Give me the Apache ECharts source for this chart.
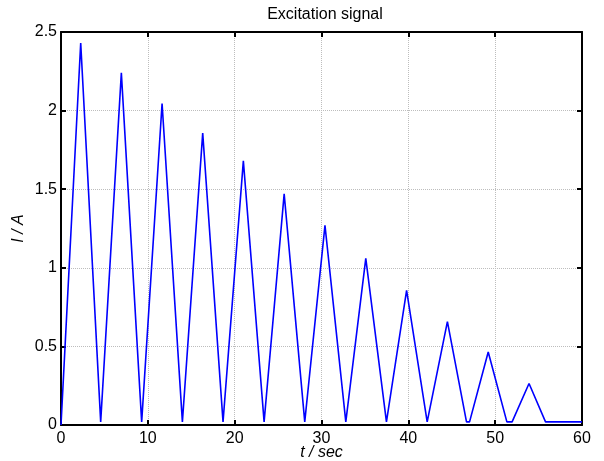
<!DOCTYPE html>
<html>
<head>
<meta charset="utf-8">
<script src="https://cdn.jsdelivr.net/npm/echarts@6/dist/echarts.min.js"></script>
<style>
  html, body { margin: 0; padding: 0; background: #fff; }
  #main { width: 604px; height: 461px; }
</style>
</head>
<body>
<div id="main"></div>
<script>
// time points (sec) and current (A)
var tVals = [0, 2.27, 4.57, 6.95, 9.29, 11.64, 13.98, 16.32, 18.66, 21.0, 23.39,
  25.7, 28.07, 30.4, 32.8, 35.1, 37.48, 39.8, 42.17, 44.5, 46.7, 47.05,
  49.2, 51.35, 51.95, 53.9, 55.8, 60];
var iVals = [0, 2.43, 0.02, 2.24, 0.02, 2.045, 0.02, 1.857, 0.02, 1.68, 0.02,
  1.47, 0.02, 1.27, 0.02, 1.06, 0.02, 0.856, 0.02, 0.658, 0.02, 0.02,
  0.464, 0.02, 0.02, 0.264, 0.02, 0.02];
var xTicks = [0, 60, 10];
var yTicks = [0, 2.5, 0.5];

var data = [];
for (var i = 0; i < tVals.length; i++) {
  data.push([tVals[i], iVals[i]]);
}

var font = 'Liberation Sans, Arial, Helvetica, sans-serif';
var boxLine = { show: true, onZero: false, lineStyle: { color: '#000', width: 2 } };
var inTick = { show: true, inside: true, length: 5, lineStyle: { color: '#000', width: 2 } };
var grid = { show: true, lineStyle: { color: '#bdbdbd', type: 'dotted', width: 1 } };

var myChart = echarts.init(document.getElementById('main'));
myChart.setOption({
  backgroundColor: '#fff',
  animation: false,
  title: {
    text: 'Excitation signal',
    left: 320, top: 2, textAlign: 'center',
    textStyle: { fontFamily: font, fontSize: 16, fontWeight: 'normal', color: '#000' }
  },
  grid: { left: 61, right: 22, top: 32, bottom: 36, outerBoundsMode: 'none', containLabel: false },
  xAxis: [{
    type: 'value', min: xTicks[0], max: xTicks[1], interval: xTicks[2],
    position: 'bottom',
    axisLine: boxLine, axisTick: inTick, splitLine: grid,
    axisLabel: { color: '#000', fontFamily: font, fontSize: 16, margin: 6 },
    name: 't / sec', nameLocation: 'middle', nameGap: 20, nameMoveOverlap: false,
    nameTextStyle: { color: '#000', fontFamily: font, fontSize: 16, fontStyle: 'italic' }
  }, {
    type: 'value', min: xTicks[0], max: xTicks[1], interval: xTicks[2],
    position: 'top',
    axisLine: boxLine, axisTick: inTick, splitLine: { show: false },
    axisLabel: { show: false }
  }],
  yAxis: [{
    type: 'value', min: yTicks[0], max: yTicks[1], interval: yTicks[2],
    position: 'left',
    axisLine: boxLine, axisTick: inTick, splitLine: grid,
    axisLabel: { color: '#000', fontFamily: font, fontSize: 16, margin: 4 },
    name: 'I / A', nameLocation: 'middle', nameGap: 34, nameMoveOverlap: false,
    nameTextStyle: { color: '#000', fontFamily: font, fontSize: 16, fontStyle: 'italic' }
  }, {
    type: 'value', min: yTicks[0], max: yTicks[1], interval: yTicks[2],
    position: 'right',
    axisLine: boxLine, axisTick: inTick, splitLine: { show: false },
    axisLabel: { show: false }
  }],
  series: [{
    type: 'line',
    data: data,
    symbol: 'none',
    lineStyle: { color: '#0000ff', width: 1.6 },
    itemStyle: { color: '#0000ff' }
  }]
});
</script>
</body>
</html>
